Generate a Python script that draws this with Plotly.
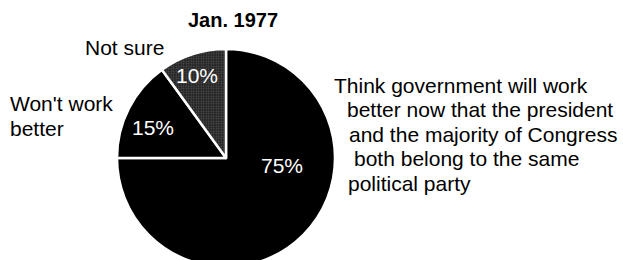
import plotly.graph_objects as go

title = "Jan. 1977"
labels = ["Think government will work better", "Won't work better", "Not sure"]
values = [75, 15, 10]
colors = ["#000000", "#000000", "#2a2a2a"]
right_lines = ["Think government will work", "better now that the president",
               "and the majority of Congress", "both belong to the same",
               "political party"]
left_lines = ["Won't work", "better"]

W, H = 623, 272
cx, cy, r = 226, 158, 109  # pixel layout of pie
FONT = "Liberation Sans"
FS = 21


def px_x(x):
    return x / W


def px_y(y):
    return 1 - y / H


fig = go.Figure()
fig.add_trace(go.Pie(
    labels=labels, values=values, sort=False, direction="clockwise", rotation=0,
    marker=dict(colors=colors, line=dict(color="white", width=2.5),
                pattern=dict(shape=["", "", "."], fgcolor="#8a8a8a", bgcolor="#222222",
                             size=2.5, solidity=0.3, fillmode="overlay")),
    textinfo="none", textposition="none",
    domain=dict(x=[px_x(cx - r), px_x(cx + r)], y=[px_y(cy + r), px_y(cy - r)]),
    showlegend=False, hoverinfo="label+percent",
))

ann = []
# percentage labels inside the slices
pct_pos = [(282, 165), (153, 127), (197, 75)]
for v, (x, y) in zip(values, pct_pos):
    ann.append(dict(text=f"{v}%", x=px_x(x), y=px_y(y), xanchor="center", yanchor="middle",
                    font=dict(family=FONT, size=FS, color="white")))
ann.append(dict(text="<b>" + title + "</b>", x=px_x(233), y=px_y(20), xanchor="center",
                yanchor="middle", font=dict(family=FONT, size=20, color="black")))
ann.append(dict(text="Not sure", x=px_x(83), y=px_y(47), xanchor="left", yanchor="middle",
                font=dict(family=FONT, size=FS, color="black")))
for i, line in enumerate(left_lines):
    ann.append(dict(text=line, x=px_x(8), y=px_y(103 + 25 * i), xanchor="left",
                    yanchor="middle", font=dict(family=FONT, size=FS, color="black")))
xs = [332, 345, 347, 352, 346]
for i, line in enumerate(right_lines):
    ann.append(dict(text=line, x=px_x(xs[i]), y=px_y(85 + 24.5 * i), xanchor="left",
                    yanchor="middle", font=dict(family=FONT, size=FS, color="black")))
for a in ann:
    a.update(xref="paper", yref="paper", showarrow=False)

fig.update_layout(width=W, height=H, margin=dict(l=0, r=0, t=0, b=0),
                  paper_bgcolor="white", plot_bgcolor="white", annotations=ann)
fig.write_html("out.html", config={"displayModeBar": False},
               post_script="document.body.style.margin='0';document.body.style.overflow='hidden';")
